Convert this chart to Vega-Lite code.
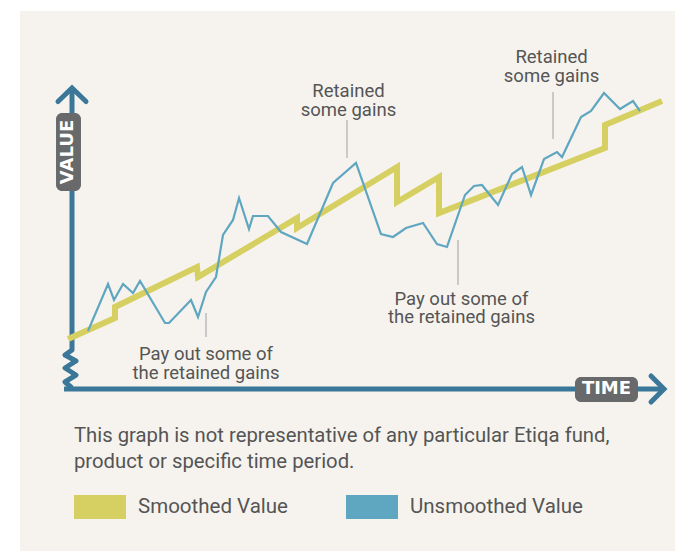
{
  "$schema": "https://vega.github.io/schema/vega-lite/v6.json",
  "width": 655,
  "height": 540,
  "autosize": "none",
  "padding": {"left": 20, "top": 11, "right": 0, "bottom": 0},
  "background": "#ffffff",
  "config": {"view": {"fill": "#f6f3ee", "stroke": null}, "font": "Roboto"},
  "datasets": {
    "series": [
      {"series": "Smoothed Value", "i": 1, "t": 7.33, "v": 39.26},
      {"series": "Smoothed Value", "i": 2, "t": 14.5, "v": 43.15},
      {"series": "Smoothed Value", "i": 3, "t": 14.5, "v": 45.19},
      {"series": "Smoothed Value", "i": 4, "t": 27.02, "v": 52.59},
      {"series": "Smoothed Value", "i": 5, "t": 27.18, "v": 50.74},
      {"series": "Smoothed Value", "i": 6, "t": 42.29, "v": 61.67},
      {"series": "Smoothed Value", "i": 7, "t": 42.29, "v": 59.81},
      {"series": "Smoothed Value", "i": 8, "t": 57.56, "v": 71.11},
      {"series": "Smoothed Value", "i": 9, "t": 57.56, "v": 64.63},
      {"series": "Smoothed Value", "i": 10, "t": 63.97, "v": 69.26},
      {"series": "Smoothed Value", "i": 11, "t": 63.97, "v": 62.59},
      {"series": "Smoothed Value", "i": 12, "t": 89.31, "v": 74.63},
      {"series": "Smoothed Value", "i": 13, "t": 89.31, "v": 78.89},
      {"series": "Smoothed Value", "i": 14, "t": 98.02, "v": 83.33},
      {"series": "Unsmoothed Value", "i": 1, "t": 10.38, "v": 40.74},
      {"series": "Unsmoothed Value", "i": 2, "t": 13.44, "v": 49.44},
      {"series": "Unsmoothed Value", "i": 3, "t": 14.35, "v": 46.48},
      {"series": "Unsmoothed Value", "i": 4, "t": 15.73, "v": 49.44},
      {"series": "Unsmoothed Value", "i": 5, "t": 17.25, "v": 47.78},
      {"series": "Unsmoothed Value", "i": 6, "t": 18.32, "v": 50.0},
      {"series": "Unsmoothed Value", "i": 7, "t": 22.14, "v": 42.22},
      {"series": "Unsmoothed Value", "i": 8, "t": 22.75, "v": 42.22},
      {"series": "Unsmoothed Value", "i": 9, "t": 26.11, "v": 46.48},
      {"series": "Unsmoothed Value", "i": 10, "t": 27.18, "v": 43.33},
      {"series": "Unsmoothed Value", "i": 11, "t": 28.4, "v": 47.96},
      {"series": "Unsmoothed Value", "i": 12, "t": 29.92, "v": 50.74},
      {"series": "Unsmoothed Value", "i": 13, "t": 30.99, "v": 58.52},
      {"series": "Unsmoothed Value", "i": 14, "t": 32.52, "v": 61.3},
      {"series": "Unsmoothed Value", "i": 15, "t": 33.44, "v": 65.37},
      {"series": "Unsmoothed Value", "i": 16, "t": 34.96, "v": 59.63},
      {"series": "Unsmoothed Value", "i": 17, "t": 35.57, "v": 62.04},
      {"series": "Unsmoothed Value", "i": 18, "t": 37.86, "v": 62.04},
      {"series": "Unsmoothed Value", "i": 19, "t": 39.85, "v": 59.07},
      {"series": "Unsmoothed Value", "i": 20, "t": 43.82, "v": 56.85},
      {"series": "Unsmoothed Value", "i": 21, "t": 47.79, "v": 68.15},
      {"series": "Unsmoothed Value", "i": 22, "t": 51.3, "v": 71.85},
      {"series": "Unsmoothed Value", "i": 23, "t": 55.11, "v": 58.7},
      {"series": "Unsmoothed Value", "i": 24, "t": 56.95, "v": 58.15},
      {"series": "Unsmoothed Value", "i": 25, "t": 58.93, "v": 59.81},
      {"series": "Unsmoothed Value", "i": 26, "t": 61.53, "v": 60.74},
      {"series": "Unsmoothed Value", "i": 27, "t": 63.66, "v": 56.85},
      {"series": "Unsmoothed Value", "i": 28, "t": 65.19, "v": 56.3},
      {"series": "Unsmoothed Value", "i": 29, "t": 67.94, "v": 65.93},
      {"series": "Unsmoothed Value", "i": 30, "t": 69.31, "v": 67.59},
      {"series": "Unsmoothed Value", "i": 31, "t": 70.53, "v": 67.78},
      {"series": "Unsmoothed Value", "i": 32, "t": 72.98, "v": 64.07},
      {"series": "Unsmoothed Value", "i": 33, "t": 75.11, "v": 69.81},
      {"series": "Unsmoothed Value", "i": 34, "t": 76.64, "v": 71.11},
      {"series": "Unsmoothed Value", "i": 35, "t": 78.02, "v": 65.93},
      {"series": "Unsmoothed Value", "i": 36, "t": 80.0, "v": 72.59},
      {"series": "Unsmoothed Value", "i": 37, "t": 81.98, "v": 73.89},
      {"series": "Unsmoothed Value", "i": 38, "t": 82.75, "v": 72.96},
      {"series": "Unsmoothed Value", "i": 39, "t": 85.65, "v": 80.37},
      {"series": "Unsmoothed Value", "i": 40, "t": 87.18, "v": 81.48},
      {"series": "Unsmoothed Value", "i": 41, "t": 89.16, "v": 84.81},
      {"series": "Unsmoothed Value", "i": 42, "t": 91.6, "v": 81.85},
      {"series": "Unsmoothed Value", "i": 43, "t": 93.59, "v": 83.33},
      {"series": "Unsmoothed Value", "i": 44, "t": 94.66, "v": 81.48}
    ],
    "axes": [
      {"part": "y", "i": 1, "t": 7.94, "v": 85.74},
      {"part": "y", "i": 2, "t": 7.94, "v": 37.22},
      {"part": "y", "i": 3, "t": 6.87, "v": 36.3},
      {"part": "y", "i": 4, "t": 8.55, "v": 35.19},
      {"part": "y", "i": 5, "t": 6.87, "v": 33.89},
      {"part": "y", "i": 6, "t": 8.55, "v": 32.59},
      {"part": "y", "i": 7, "t": 6.87, "v": 31.3},
      {"part": "y", "i": 8, "t": 7.94, "v": 30.19},
      {"part": "x", "i": 1, "t": 6.72, "v": 30.0},
      {"part": "x", "i": 2, "t": 98.3, "v": 30.0}
    ],
    "arrows": [
      {"part": "up", "i": 1, "t": 5.8, "v": 83.24},
      {"part": "up", "i": 2, "t": 7.94, "v": 85.74},
      {"part": "up", "i": 3, "t": 10.08, "v": 83.24},
      {"part": "right", "i": 1, "t": 96.34, "v": 32.41},
      {"part": "right", "i": 2, "t": 98.32, "v": 30.0},
      {"part": "right", "i": 3, "t": 96.34, "v": 27.59}
    ],
    "callouts": [
      {"label": "Pay out some of\nthe retained gains", "t": 28.4, "v": 44.07, "v2": 39.63, "tt": 28.4, "tv": 35.37},
      {"label": "Retained\nsome gains", "t": 49.92, "v": 79.81, "v2": 72.78, "tt": 50.15, "tv": 84.07},
      {"label": "Pay out some of\nthe retained gains", "t": 66.87, "v": 57.59, "v2": 49.26, "tt": 67.4, "tv": 45.56},
      {"label": "Retained\nsome gains", "t": 81.37, "v": 85.0, "v2": 76.3, "tt": 81.15, "tv": 90.37}
    ],
    "boxes": [
      {"label": "VALUE", "t": 5.5, "t2": 9.31, "v": 81.11, "v2": 66.67, "tc": 7.4, "vc": 73.89},
      {"label": "TIME", "t": 84.73, "t2": 94.35, "v": 32.22, "v2": 27.59, "tc": 89.54, "vc": 29.91}
    ],
    "footer": [
      {"text": "This graph is not representative of any particular Etiqa fund,\nproduct or specific time period.", "t": 8.24, "v": 20.19}
    ]
  },
  "encoding": {
    "x": {"field": "t", "type": "quantitative", "scale": {"domain": [0, 100], "nice": false, "zero": false}, "axis": null},
    "y": {"field": "v", "type": "quantitative", "scale": {"domain": [0, 100], "nice": false, "zero": false}, "axis": null}
  },
  "layer": [
    {
      "data": {"name": "axes"},
      "mark": {"type": "line", "stroke": "#3b7798", "strokeWidth": 5, "strokeJoin": "round", "strokeCap": "butt"},
      "encoding": {"detail": {"field": "part"}, "order": {"field": "i", "type": "quantitative"}}
    },
    {
      "data": {"name": "arrows"},
      "mark": {"type": "line", "stroke": "#3b7798", "strokeWidth": 5, "strokeJoin": "miter", "strokeCap": "round"},
      "encoding": {"detail": {"field": "part"}, "order": {"field": "i", "type": "quantitative"}}
    },
    {
      "data": {"name": "callouts"},
      "mark": {"type": "rule", "stroke": "#c9c9c9", "strokeWidth": 2},
      "encoding": {"y2": {"field": "v2"}}
    },
    {
      "data": {"name": "series"},
      "transform": [{"filter": "datum.series === 'Smoothed Value'"}],
      "mark": {"type": "line", "strokeWidth": 6, "strokeJoin": "miter"},
      "encoding": {
        "order": {"field": "i", "type": "quantitative"},
        "color": {
          "field": "series", "type": "nominal",
          "scale": {"domain": ["Smoothed Value", "Unsmoothed Value"], "range": ["#d6d063", "#5fa6c1"]},
          "legend": {
            "orient": "none", "legendX": 42, "legendY": 458, "direction": "horizontal", "title": null,
            "symbolType": "stroke", "symbolSize": 2704, "symbolStrokeWidth": 24,
            "labelFont": "Roboto", "labelFontSize": 20.5, "labelColor": "#555555", "labelLimit": 0,
            "labelOffset": 0, "columnPadding": 10, "padding": 0, "symbolOffset": 0
          }
        }
      }
    },
    {
      "data": {"name": "series"},
      "transform": [{"filter": "datum.series === 'Unsmoothed Value'"}],
      "mark": {"type": "line", "strokeWidth": 2.2, "strokeJoin": "miter"},
      "encoding": {
        "order": {"field": "i", "type": "quantitative"},
        "color": {"field": "series", "type": "nominal"}
      }
    },
    {
      "data": {"name": "boxes"},
      "mark": {"type": "rect", "fill": "#68696b", "cornerRadius": 6},
      "encoding": {"x2": {"field": "t2"}, "y2": {"field": "v2"}}
    },
    {
      "data": {"name": "boxes"},
      "transform": [{"filter": "datum.label === 'VALUE'"}],
      "mark": {"type": "text", "font": "DejaVu Sans", "fontWeight": "bold", "fontSize": 18, "fill": "#ffffff", "angle": 270, "align": "center", "baseline": "middle"},
      "encoding": {"x": {"field": "tc", "type": "quantitative"}, "y": {"field": "vc", "type": "quantitative"}, "text": {"field": "label"}}
    },
    {
      "data": {"name": "boxes"},
      "transform": [{"filter": "datum.label === 'TIME'"}],
      "mark": {"type": "text", "font": "DejaVu Sans", "fontWeight": "bold", "fontSize": 18, "fill": "#ffffff", "align": "center", "baseline": "middle"},
      "encoding": {"x": {"field": "tc", "type": "quantitative"}, "y": {"field": "vc", "type": "quantitative"}, "text": {"field": "label"}}
    },
    {
      "data": {"name": "callouts"},
      "mark": {"type": "text", "font": "Roboto", "fontSize": 18.5, "fill": "#555555", "align": "center", "baseline": "alphabetic", "lineBreak": "\n", "lineHeight": 18.5},
      "encoding": {"x": {"field": "tt", "type": "quantitative"}, "y": {"field": "tv", "type": "quantitative"}, "text": {"field": "label"}}
    },
    {
      "data": {"name": "footer"},
      "mark": {"type": "text", "font": "Roboto", "fontSize": 20.3, "fill": "#555555", "align": "left", "baseline": "alphabetic", "lineBreak": "\n", "lineHeight": 26},
      "encoding": {"text": {"field": "text"}}
    }
  ]
}
